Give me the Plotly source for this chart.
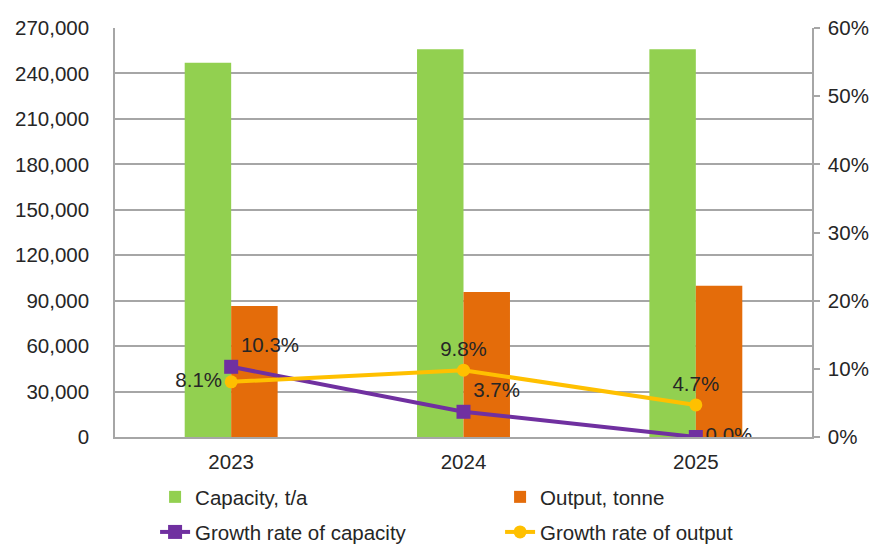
import plotly.graph_objects as go

years = ["2023", "2024", "2025"]
capacity = [247000, 256000, 256000]
output = [86500, 95800, 99800]
growth_capacity = [0.103, 0.037, 0.0]
growth_output = [0.081, 0.098, 0.047]

cap_label_pos = ["top right", "top right", "middle right"]
out_label_pos = ["middle left", "top center", "top center"]

FONT = "Liberation Sans, Arial, sans-serif"
FS = 20.5
TXT = "#262626"
GRID = "#a6a6a6"

fig = go.Figure()
fig.add_trace(go.Bar(x=years, y=capacity, name="Capacity, t/a",
                     marker=dict(color="#92D050", line=dict(width=0)), legend="legend"))
fig.add_trace(go.Bar(x=years, y=output, name="Output, tonne",
                     marker=dict(color="#E46C0A", line=dict(width=0)), legend="legend"))
fig.add_trace(go.Scatter(x=years, y=growth_capacity, name="Growth rate of capacity", yaxis="y2",
                         mode="lines+markers+text",
                         line=dict(color="#7030A0", width=4),
                         marker=dict(symbol="square", size=14, color="#7030A0"),
                         text=[f"{v*100:.1f}%" for v in growth_capacity],
                         textposition=cap_label_pos,
                         textfont=dict(family=FONT, size=FS, color=TXT),
                         legend="legend2"))
fig.add_trace(go.Scatter(x=years, y=growth_output, name="Growth rate of output", yaxis="y2",
                         mode="lines+markers+text",
                         line=dict(color="#FFC000", width=4),
                         marker=dict(symbol="circle", size=13, color="#FFC000"),
                         text=[f"{v*100:.1f}%" for v in growth_output],
                         textposition=out_label_pos,
                         textfont=dict(family=FONT, size=FS, color=TXT),
                         legend="legend2"))

fig.update_layout(
    width=875, height=548,
    margin=dict(l=115, r=63, t=28, b=111),
    plot_bgcolor="white", paper_bgcolor="white",
    font=dict(family=FONT, size=FS, color=TXT),
    barmode="group", bargap=0.6, bargroupgap=0,
    xaxis=dict(type="category", showline=True, linecolor=GRID, linewidth=1.5,
               showgrid=False, ticks="", ticklabelstandoff=6, automargin=False),
    yaxis=dict(range=[0, 270000], dtick=30000, tickformat=",",
               showgrid=True, gridcolor=GRID, gridwidth=1.5,
               showline=True, linecolor=GRID, linewidth=1.5,
               ticks="", ticklabelstandoff=20, zeroline=False, automargin=False),
    yaxis2=dict(range=[0, 0.6], dtick=0.1, tickformat=".0%", overlaying="y", side="right",
                showgrid=False, showline=True, linecolor=GRID, linewidth=1.5,
                ticks="outside", ticklen=6, tickcolor=GRID, tickwidth=1.5,
                ticklabelstandoff=4, zeroline=False, automargin=False),
    legend=dict(orientation="h", x=0.0575, xanchor="left", yref="container", y=0.093,
                yanchor="middle", entrywidth=300, font=dict(family=FONT, size=FS, color=TXT),
                bgcolor="rgba(0,0,0,0)"),
    legend2=dict(orientation="h", x=0.0575, xanchor="left", yref="container", y=0.029,
                 yanchor="middle", entrywidth=300, font=dict(family=FONT, size=FS, color=TXT),
                 bgcolor="rgba(0,0,0,0)"),
    showlegend=True,
)

fig.write_html("out.html", config={"displayModeBar": False},
               post_script="document.body.style.margin='0px';document.body.style.overflow='hidden';")
